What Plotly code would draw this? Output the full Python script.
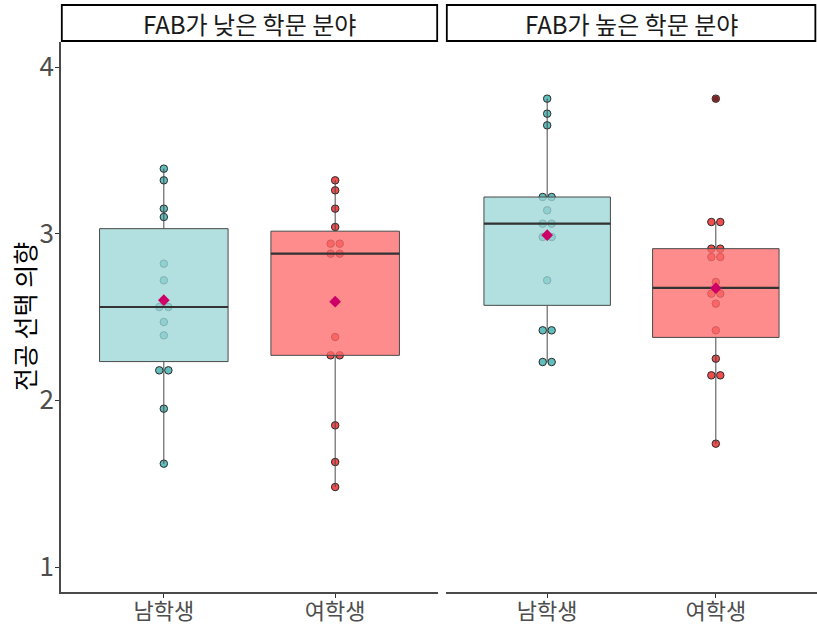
import numpy as np
import plotly.graph_objects as go

# Facets, groups and per-student scores
fields = ["FAB가 낮은 학문 분야", "FAB가 높은 학문 분야"]
groups = ["남학생", "여학생"]
y_title = "전공 선택 의향"
y_ticks = [1, 2, 3, 4]

low_male = [3.39, 3.32, 3.15, 3.10, 2.82, 2.72, 2.56, 2.56, 2.47, 2.39, 2.18, 2.18, 1.95, 1.62]
low_female = [3.32, 3.26, 3.15, 3.04, 2.94, 2.94, 2.88, 2.88, 2.38, 2.27, 2.27, 1.85, 1.63, 1.48]
high_male = [3.81, 3.72, 3.65, 3.22, 3.22, 3.14, 3.06, 3.06, 2.98, 2.98, 2.72, 2.42, 2.42, 2.23, 2.23]
high_female = [3.81, 3.07, 3.07, 2.91, 2.91, 2.86, 2.86, 2.71, 2.64, 2.64, 2.58, 2.42, 2.25, 2.15, 2.15, 1.74]

panels = [[low_male, low_female], [high_male, high_female]]

dot_fill = ["#62BDBD", "#F04E4E"]
box_fill = ["rgba(156,214,214,0.78)", "rgba(255,108,108,0.78)"]
mean_color = "#CC0066"
FONT = "Noto Sans CJK KR"

W, H = 817, 627
# panel pixel frames
px_left = [(61, 438), (446, 817)]
px_top, px_bottom = 42, 592
y_dom = [(H - px_bottom) / H, (H - px_top) / H]
y_range = [0.85, 4.15]
x_range = [-0.6, 1.6]
box_w = 0.75
dot_step = 0.053

fig = go.Figure()


def box_stats(vals):
    v = np.asarray(vals, dtype=float)
    q1, med, q3 = np.percentile(v, [25, 50, 75])
    iqr = q3 - q1
    inside = v[(v >= q1 - 1.5 * iqr) & (v <= q3 + 1.5 * iqr)]
    outl = v[(v < q1 - 1.5 * iqr) | (v > q3 + 1.5 * iqr)]
    return q1, med, q3, inside.min(), inside.max(), v.mean(), outl


for p, series_pair in enumerate(panels):
    xa = "x" if p == 0 else "x2"
    ya_base = "y" if p == 0 else "y2"
    ya_top = "y3" if p == 0 else "y4"
    for g, vals in enumerate(series_pair):
        # centred horizontal stacking of equal values
        xs, ys = [], []
        uniq, counts = np.unique(vals, return_counts=True)
        for u, k in zip(uniq, counts):
            for i in range(k):
                xs.append(g + (i - (k - 1) / 2) * dot_step)
                ys.append(u)
        fig.add_trace(go.Scatter(
            x=xs, y=ys, mode="markers", xaxis=xa, yaxis=ya_base,
            marker=dict(size=7.5, color=dot_fill[g],
                        line=dict(color="#2a2a2a", width=1)),
            hoverinfo="skip"))

        q1, med, q3, lo, hi, mean, outl = box_stats(vals)
        fig.add_trace(go.Box(
            x=[g], q1=[q1], median=[med], q3=[q3],
            lowerfence=[lo], upperfence=[hi],
            width=box_w, whiskerwidth=0, boxpoints=False,
            fillcolor=box_fill[g], line=dict(color="#4a4a4a", width=1),
            xaxis=xa, yaxis=ya_top))
        # thicker median bar
        fig.add_trace(go.Scatter(
            x=[g - box_w / 2, g + box_w / 2], y=[med, med], mode="lines",
            line=dict(color="#333333", width=2.2), xaxis=xa, yaxis=ya_top,
            hoverinfo="skip"))
        if len(outl):
            fig.add_trace(go.Scatter(
                x=[g] * len(outl), y=list(outl), mode="markers",
                marker=dict(size=6, color="rgba(0,0,0,0.5)"),
                xaxis=xa, yaxis=ya_top, hoverinfo="skip"))
        fig.add_trace(go.Scatter(
            x=[g], y=[mean], mode="markers", xaxis=xa, yaxis=ya_top,
            marker=dict(symbol="diamond", size=9, color=mean_color),
            hoverinfo="skip"))

axis_line = dict(showline=True, linecolor="#4a4a4a", linewidth=1.5,
                 ticks="outside", ticklen=4, tickcolor="#333333", tickwidth=1,
                 showgrid=False, zeroline=False, automargin=False)

x_common = dict(range=x_range, tickvals=[0, 1], ticktext=groups,
                tickfont=dict(family=FONT, size=22, color="#4d4d4d"),
                ticklabelstandoff=-5, fixedrange=True, **axis_line)

fig.update_layout(
    width=W, height=H, margin=dict(l=0, r=0, t=0, b=0),
    paper_bgcolor="white", plot_bgcolor="white", showlegend=False,
    xaxis=dict(domain=[px_left[0][0] / W, px_left[0][1] / W], anchor="y", **x_common),
    xaxis2=dict(domain=[px_left[1][0] / W, px_left[1][1] / W], anchor="y2", **x_common),
    yaxis=dict(domain=y_dom, range=y_range, tickvals=y_ticks, anchor="x",
               tickfont=dict(family="Liberation Sans Narrow, " + FONT, size=26, color="#4d4d4d"),
               ticklabelstandoff=-4, **axis_line),
    yaxis2=dict(domain=y_dom, range=y_range, anchor="x2", showline=False,
                showticklabels=False, ticks="", showgrid=False, zeroline=False,
                automargin=False),
    yaxis3=dict(overlaying="y", anchor="x", range=y_range, visible=False),
    yaxis4=dict(overlaying="y2", anchor="x2", range=y_range, visible=False),
)

# facet strips
strip_top, strip_bottom = 5, 41
for p, name in enumerate(fields):
    x0, x1 = px_left[p]
    fig.add_shape(type="rect", xref="paper", yref="paper",
                  x0=x0 / W + 0.001, x1=min(x1 / W, 0.999) - 0.001,
                  y0=(H - strip_bottom) / H, y1=(H - strip_top) / H,
                  line=dict(color="black", width=1.8), fillcolor="white")
    fig.add_annotation(text=name, xref="paper", yref="paper",
                       x=(x0 + x1) / 2 / W, y=(H - (strip_top + strip_bottom) / 2) / H,
                       showarrow=False, xanchor="center", yanchor="middle",
                       font=dict(family=FONT, size=24, color="#1a1a1a"))

# y-axis title
fig.add_annotation(text=y_title, xref="paper", yref="paper",
                   x=24 / W, y=(H - (px_top + px_bottom) / 2) / H,
                   textangle=-90, showarrow=False, xanchor="center", yanchor="middle",
                   font=dict(family=FONT, size=25, color="black"))

fig.write_html("out.html")
